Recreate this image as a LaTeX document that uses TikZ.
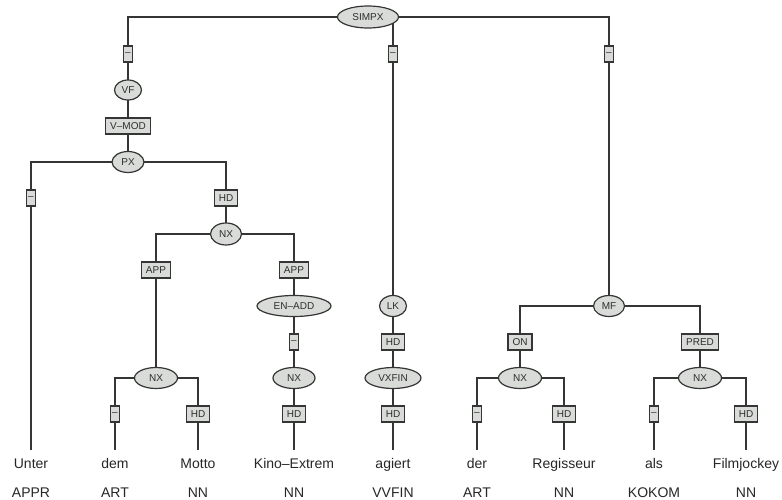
\documentclass[tikz,border=0pt]{standalone}
\usepackage{fontspec}
\setmainfont{Liberation Sans}
\usetikzlibrary{shapes.geometric,backgrounds}
\definecolor{nodefill}{HTML}{D8DBD7}
\definecolor{edgecol}{HTML}{353535}
\definecolor{labcol}{HTML}{2E2E2E}
\tikzset{
 cat/.style={ellipse,draw=edgecol,fill=nodefill,line width=1.2pt,inner sep=0pt,font=\fontsize{10}{12}\selectfont,text=labcol},
 fn/.style={rectangle,draw=edgecol,fill=nodefill,line width=1.4pt,inner xsep=4.5pt,inner ysep=0pt,minimum height=16pt,font=\fontsize{10}{12}\selectfont,text=labcol},
 nolab/.style={fn,minimum width=9pt,inner xsep=0pt},
 word/.style={anchor=base,inner xsep=0pt,inner ysep=8pt,text height=10pt,text depth=3pt,font=\fontsize{14}{16}\selectfont,text=black!85},
 tag/.style={anchor=base,inner sep=0pt,font=\fontsize{14}{16}\selectfont,text=black!85},
 conn/.style={draw=edgecol,line width=1.6pt},
}
\begin{document}
\begin{tikzpicture}[x=1pt,y=-1pt]
\useasboundingbox (0,0) rectangle (782,500);
% top
\node[cat,minimum width=61pt,minimum height=22pt] (simpx) at (368,17) {SIMPX};
\node[nolab] (b1) at (128,54) {–};
\node[nolab] (b2) at (393,54) {–};
\node[nolab] (b3) at (609,54) {–};
% left branch
\node[cat,minimum width=27pt,minimum height=20pt] (vf) at (128,90) {VF};
\node[fn] (vmod) at (128,126) {V–MOD};
\node[cat,minimum width=32pt,minimum height=21pt] (px) at (128,162) {PX};
\node[nolab] (d1) at (31,198) {–};
\node[fn] (hd1) at (226,198) {HD};
\node[cat,minimum width=31pt,minimum height=22pt] (nx1) at (226,234) {NX};
\node[fn] (app1) at (156,270) {APP};
\node[fn] (app2) at (294,270) {APP};
\node[cat,minimum width=74pt,minimum height=21pt] (enadd) at (294,306) {EN–ADD};
\node[nolab] (d3) at (294,342) {–};
\node[cat,minimum width=42pt,minimum height=21pt] (nx3) at (294,378) {NX};
\node[fn] (hd3) at (294,414) {HD};
\node[cat,minimum width=43pt,minimum height=21pt] (nx2) at (156,378) {NX};
\node[nolab] (d2) at (115,414) {–};
\node[fn] (hd2) at (198,414) {HD};
% middle branch
\node[cat,minimum width=27pt,minimum height=21pt] (lk) at (393,306) {LK};
\node[fn] (hd4) at (393,342) {HD};
\node[cat,minimum width=56pt,minimum height=21pt] (vxfin) at (393,378) {VXFIN};
\node[fn] (hd5) at (393,414) {HD};
% right branch
\node[cat,minimum width=31pt,minimum height=21pt] (mf) at (609,306) {MF};
\node[fn] (on) at (520,342) {ON};
\node[fn] (pred) at (700,342) {PRED};
\node[cat,minimum width=43pt,minimum height=21pt] (nx4) at (520,378) {NX};
\node[cat,minimum width=43pt,minimum height=21pt] (nx5) at (700,378) {NX};
\node[nolab] (d4) at (477,414) {–};
\node[fn] (hd6) at (564,414) {HD};
\node[nolab] (d5) at (654,414) {–};
\node[fn] (hd7) at (746,414) {HD};
% words
\node[word] (w1) at (31,468) {Unter};
\node[word] (w2) at (115,468) {dem};
\node[word] (w3) at (198,468) {Motto};
\node[word] (w4) at (294,468) {Kino–Extrem};
\node[word] (w5) at (393,468) {agiert};
\node[word] (w6) at (477,468) {der};
\node[word] (w7) at (564,468) {Regisseur};
\node[word] (w8) at (654,468) {als};
\node[word] (w9) at (746,468) {Filmjockey};
% tags
\node[tag] (t1) at (31,497) {APPR};
\node[tag] (t2) at (115,497) {ART};
\node[tag] (t3) at (198,497) {NN};
\node[tag] (t4) at (294,497) {NN};
\node[tag] (t5) at (393,497) {VVFIN};
\node[tag] (t6) at (477,497) {ART};
\node[tag] (t7) at (564,497) {NN};
\node[tag] (t8) at (654,497) {KOKOM};
\node[tag] (t9) at (746,497) {NN};
% connectors
\begin{scope}[on background layer]
\draw[conn] (b1.center) |- (simpx.center) -| (b3.center);
\draw[conn] (b2.center) |- (simpx.center);
\draw[conn] (b1.center) -- (vf.center) -- (vmod.center) -- (px.center);
\draw[conn] (d1.center) |- (px.center) -| (hd1.center);
\draw[conn] (d1.center) -- (w1.north);
\draw[conn] (hd1.center) -- (nx1.center);
\draw[conn] (app1.center) |- (nx1.center) -| (app2.center);
\draw[conn] (app1.center) -- (nx2.center);
\draw[conn] (d2.center) |- (nx2.center) -| (hd2.center);
\draw[conn] (d2.center) -- (w2.north);
\draw[conn] (hd2.center) -- (w3.north);
\draw[conn] (app2.center) -- (enadd.center) -- (d3.center) -- (nx3.center) -- (hd3.center) -- (w4.north);
\draw[conn] (b2.center) -- (lk.center) -- (hd4.center) -- (vxfin.center) -- (hd5.center) -- (w5.north);
\draw[conn] (b3.center) -- (mf.center);
\draw[conn] (on.center) |- (mf.center) -| (pred.center);
\draw[conn] (on.center) -- (nx4.center);
\draw[conn] (pred.center) -- (nx5.center);
\draw[conn] (d4.center) |- (nx4.center) -| (hd6.center);
\draw[conn] (d5.center) |- (nx5.center) -| (hd7.center);
\draw[conn] (d4.center) -- (w6.north);
\draw[conn] (hd6.center) -- (w7.north);
\draw[conn] (d5.center) -- (w8.north);
\draw[conn] (hd7.center) -- (w9.north);
\end{scope}
\end{tikzpicture}
\end{document}
